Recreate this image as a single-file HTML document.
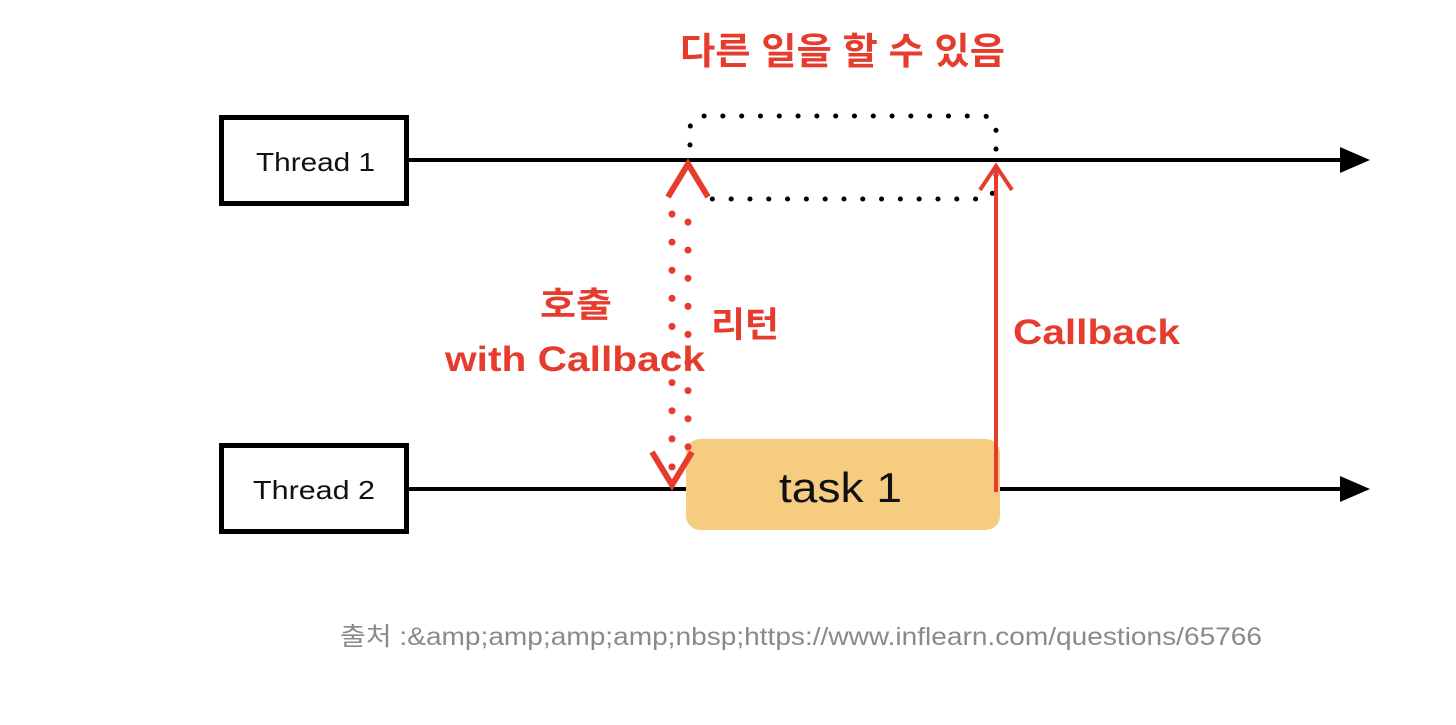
<!DOCTYPE html>
<html><head><meta charset="utf-8"><style>
body{margin:0;background:#fff;width:1456px;height:720px;overflow:hidden}
svg text{font-family:"Liberation Sans","Noto Sans CJK KR",sans-serif}
</style></head><body>
<svg width="1456" height="720" viewBox="0 0 1456 720">
<rect x="221.5" y="117.5" width="185" height="86" fill="#fff" stroke="#000" stroke-width="5"/>
<text x="256" y="171" font-size="26" textLength="119" lengthAdjust="spacingAndGlyphs" fill="#111">Thread 1</text>
<rect x="221.5" y="445.5" width="185" height="86" fill="#fff" stroke="#000" stroke-width="5"/>
<text x="253" y="499" font-size="26" textLength="122" lengthAdjust="spacingAndGlyphs" fill="#111">Thread 2</text>
<line x1="409" y1="160" x2="1345" y2="160" stroke="#000" stroke-width="4"/>
<polygon points="1340,147 1370,160 1340,173" fill="#000"/>
<line x1="409" y1="489" x2="1345" y2="489" stroke="#000" stroke-width="4"/>
<polygon points="1340,476 1370,489 1340,502" fill="#000"/>
<path d="M690,145 V130 Q690,116 704,116 H982 Q996,116 996,130 V150 M996,175 Q996,199 982,199 H700" fill="none" stroke="#000" stroke-width="5" stroke-dasharray="0.1 18.7" stroke-linecap="round"/>
<rect x="686" y="439" width="314" height="91" rx="14" fill="#f6cd80"/>
<text x="779" y="502" font-size="42" textLength="123" lengthAdjust="spacingAndGlyphs" fill="#111">task 1</text>
<line x1="672" y1="214" x2="672" y2="470" stroke="#e53c2d" stroke-width="7" stroke-dasharray="0.1 28" stroke-linecap="round"/>
<line x1="688" y1="222" x2="688" y2="460" stroke="#e53c2d" stroke-width="7" stroke-dasharray="0.1 28" stroke-linecap="round"/>
<polyline points="668,197 688,164 708,197" fill="none" stroke="#e53c2d" stroke-width="6"/>
<polyline points="652,452 672,485 692,452" fill="none" stroke="#e53c2d" stroke-width="6"/>
<line x1="996" y1="166" x2="996" y2="492" stroke="#e53c2d" stroke-width="4"/>
<polyline points="980,190 996,166 1012,190" fill="none" stroke="#e53c2d" stroke-width="4"/>
<text x="680" y="64" font-size="37" font-weight="bold" textLength="325" lengthAdjust="spacingAndGlyphs" fill="#e53c2d">다른 일을 할 수 있음</text>
<text x="540" y="317" font-size="35" font-weight="bold" textLength="72" lengthAdjust="spacingAndGlyphs" fill="#e53c2d">호출</text>
<text x="445" y="371" font-size="35" font-weight="bold" textLength="260" lengthAdjust="spacingAndGlyphs" fill="#e53c2d">with Callback</text>
<text x="711" y="337" font-size="35" font-weight="bold" textLength="68" lengthAdjust="spacingAndGlyphs" fill="#e53c2d">리턴</text>
<text x="1013" y="344" font-size="35" font-weight="bold" textLength="167" lengthAdjust="spacingAndGlyphs" fill="#e53c2d">Callback</text>
<text x="340" y="645" font-size="25" textLength="922" lengthAdjust="spacingAndGlyphs" fill="#8a8a8a">출처 :&amp;amp;amp;amp;amp;nbsp;https://www.inflearn.com/questions/65766</text>
</svg>
</body></html>
